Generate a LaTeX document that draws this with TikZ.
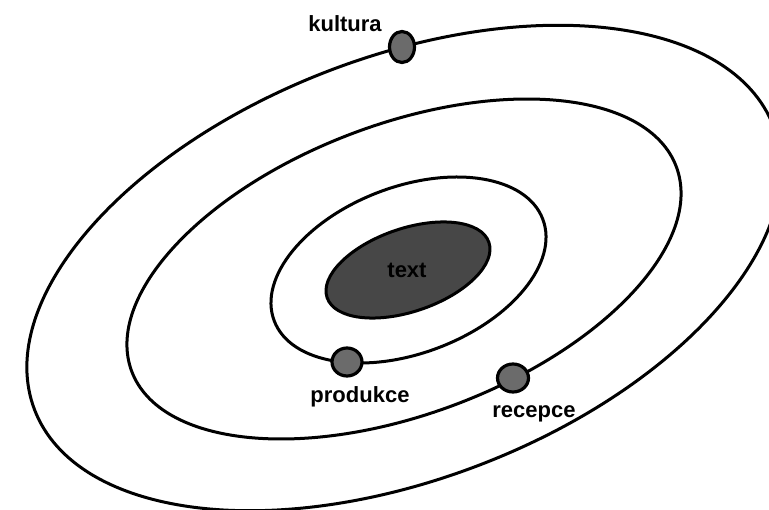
\documentclass[tikz,border=0pt]{standalone}
\usepackage{fontspec}
\setmainfont{Liberation Sans}
\usetikzlibrary{shapes.geometric}
\begin{document}
\begin{tikzpicture}[x=1pt,y=-1pt,
  orbit/.style={line width=3pt, black},
  planet/.style={ellipse, draw=black, line width=3.2pt, fill=black!58, inner sep=0pt},
  lbl/.style={font=\bfseries\fontsize{22}{24}\selectfont, anchor=base, inner sep=0pt}]
\useasboundingbox (0,0) rectangle (769,510);
\clip (0,0) rectangle (769,510);
\fill[white] (0,0) rectangle (769,510);
% orbits
\draw[orbit, rotate around={21:(404,268)}] (404,268) ellipse [x radius=395.7pt, y radius=211pt];
\draw[orbit, rotate around={20.6:(404,269)}] (404,269) ellipse [x radius=290.9pt, y radius=145pt];
\draw[orbit, rotate around={20.7:(408.5,270)}] (408.5,270) ellipse [x radius=143.6pt, y radius=83.3pt];
% core
\filldraw[line width=3pt, draw=black, fill=black!72, rotate around={18.9:(408,270)}] (408,270) ellipse [x radius=85.5pt, y radius=41.5pt];
\node[lbl, anchor=center, text=black] (core) at (407,270) {text};
% planets
\node[planet, minimum width=25pt, minimum height=31pt] (kultura) at (402,47) {};
\node[planet, minimum width=30pt, minimum height=28pt] (produkce) at (347,362) {};
\node[planet, minimum width=31pt, minimum height=28pt] (recepce) at (513,378) {};
% labels
\node[lbl] (lkultura) at (345,31.5) {kultura};
\node[lbl] (lprodukce) at (360,403) {produkce};
\node[lbl] (lrecepce) at (534,418) {recepce};
\end{tikzpicture}
\end{document}
